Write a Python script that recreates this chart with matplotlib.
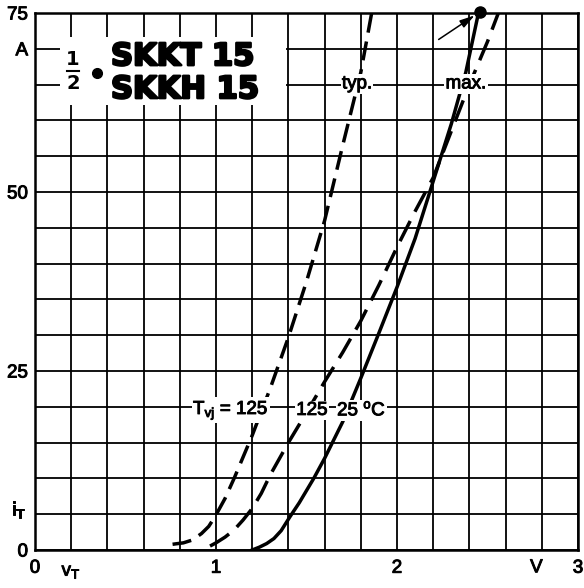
import matplotlib
matplotlib.use('Agg')
import matplotlib.pyplot as plt
import matplotlib.patheffects as pe
import numpy as np
from matplotlib.patches import Rectangle

# ---- data ----
typ125_v = [0.76, 0.82, 0.87, 0.92, 0.96, 1.0, 1.05, 1.1, 1.15, 1.2, 1.3, 1.4, 1.5, 1.6, 1.7, 1.8, 1.86]
typ125_i = [0.8, 1.0, 1.4, 2.3, 3.3, 4.9, 7.2, 10, 13, 16, 22.6, 29.7, 37.5, 46, 56.5, 66.7, 75]

max125_v = [0.967, 1.0, 1.05, 1.1, 1.15, 1.2, 1.25, 1.3, 1.4, 1.5, 1.6, 1.7, 1.8, 1.9, 2.0, 2.1, 2.2, 2.3, 2.4, 2.5, 2.56]
max125_i = [0.55, 1.0, 1.8, 2.8, 4.2, 5.8, 7.9, 10.5, 15, 19.2, 23.5, 27.6, 32, 37, 42.3, 47.3, 52, 58.5, 65, 71, 75]

max25_v = [1.2, 1.24, 1.28, 1.32, 1.36, 1.41, 1.46, 1.5, 1.54, 1.6, 1.7, 1.8, 1.9, 2.0, 2.1, 2.2, 2.3, 2.38, 2.45]
max25_i = [0, 0.4, 0.9, 1.6, 2.7, 4.7, 6.6, 8.3, 10, 12.8, 17.9, 24, 30.3, 36.7, 43.5, 51.5, 59.5, 66.7, 75]

x_ticks = np.round(np.arange(0, 3.01, 0.2), 1)
x_tick_labels = ['0', '', '', '', '', '1', '', '', '', '', '2', '', '', '', '', '3']
y_ticks = np.arange(0, 76, 5)
y_tick_labels = ['0', '', '', '', '', '25', '', '', '', '', '50', '', '', '', 'A', '75']

FONT = 'Liberation Sans'
plt.rcParams['font.family'] = [FONT, 'DejaVu Sans']
plt.rcParams['mathtext.fontset'] = 'custom'
plt.rcParams['mathtext.rm'] = FONT
plt.rcParams['mathtext.it'] = FONT
plt.rcParams['mathtext.bf'] = FONT + ':bold'

thick = [pe.withStroke(linewidth=0.7, foreground='black')]

fig = plt.figure(figsize=(5.84, 5.88), dpi=100)
ax = fig.add_axes([35 / 584, 1 - 550 / 588, 543 / 584, 537 / 588])
ax.set_xlim(0, 3)
ax.set_ylim(0, 75)

ax.set_xticks(x_ticks)
ax.set_xticklabels(x_tick_labels)
ax.set_yticks(y_ticks)
ax.set_yticklabels(y_tick_labels)
ax.tick_params(length=0, labelsize=13.5, colors='black')
ax.tick_params(axis='x', pad=7)
ax.tick_params(axis='y', pad=5)
for lab in ax.get_xticklabels() + ax.get_yticklabels():
    lab.set_path_effects(thick)
ax.grid(True, color='black', lw=1.3)
ax.set_axisbelow(True)
for s in ax.spines.values():
    s.set_linewidth(1.8)

# white title box covering the grid
ax.add_patch(Rectangle((0.14, 62.1), 1.245, 9.6, facecolor='white', edgecolor='none', zorder=1))

lw = 2.5
ax.plot(typ125_v, typ125_i, color='black', lw=lw, dashes=(5.5, 2.6), zorder=2)
ax.plot(max125_v, max125_i, color='black', lw=lw, dashes=(6.5, 3.0), zorder=2)
ax.plot(max25_v, max25_i, color='black', lw=lw, zorder=2)

# title text
heavy = [pe.withStroke(linewidth=1.8, foreground='black')]
tkw = dict(fontsize=22, fontweight='bold', family=['DejaVu Sans'], va='center', ha='left',
           zorder=4, path_effects=heavy)
ax.text(0.42, 68.9, 'SKKT 15', **tkw)
ax.text(0.42, 64.3, 'SKKH 15', **tkw)
fkw = dict(fontsize=14, fontweight='bold', family=['DejaVu Sans'], ha='center', va='center', zorder=4)
ax.text(0.21, 68.5, '1', **fkw)
ax.text(0.21, 65.1, '2', **fkw)
ax.plot([0.178, 0.245], [66.95, 66.95], color='black', lw=1.5, zorder=4)
ax.plot([0.345], [66.6], 'o', color='black', ms=7, zorder=4)

bb = dict(facecolor='white', edgecolor='none', pad=1.0)
lkw = dict(fontsize=13.5, va='center', bbox=bb, zorder=5, path_effects=thick)
ax.text(1.779, 65.1, 'typ.', ha='center', **lkw)
ax.text(2.381, 65.1, 'max.', ha='center', **lkw)
ax.text(0.873, 19.5, 'T$_{\\rm vj}$ = 125', ha='left', **lkw)
ax.text(1.53, 19.5, '125', ha='center', **lkw)
ax.text(1.669, 19.5, '25 $^{\\rm o}$C', ha='left', **lkw)

# annotation arrow to the end point
ax.annotate('', xy=(2.455, 75.1), xytext=(2.23, 71.3),
            arrowprops=dict(arrowstyle='-|>,head_length=0.9,head_width=0.25', color='black', lw=1.1,
                            shrinkA=0, shrinkB=4), annotation_clip=False, zorder=6)
ax.plot([2.459], [75.1], 'o', color='black', ms=8, clip_on=False, zorder=6)

# axis symbol labels
akw = dict(fontsize=13.5, clip_on=False, path_effects=thick)
ax.text(0.2, -1.9, 'v$_{\\rm T}$', ha='center', va='top', **akw)
ax.text(2.77, -1.3, 'V', ha='center', va='top', **akw)
ax.text(-0.09, 5.6, 'i$_{\\rm T}$', ha='center', va='center', **akw)

fig.savefig('out.png', dpi=100)
